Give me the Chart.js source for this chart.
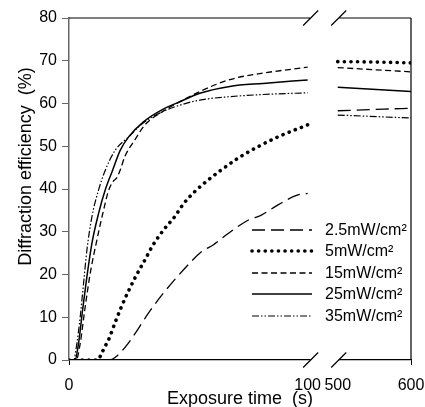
<!DOCTYPE html>
<html>
<head>
<meta charset="utf-8">
<script src="https://cdn.jsdelivr.net/npm/chart.js@4.4.1/dist/chart.umd.min.js"></script>
<style>
  html, body { margin: 0; padding: 0; background: #fff; }
</style>
</head>
<body>
<canvas id="myChart" width="425" height="407"></canvas>
<script>
// series names
var labels = ['2.5mW/cm²', '5mW/cm²', '15mW/cm²', '25mW/cm²', '35mW/cm²'];

// exposure time (s) / diffraction efficiency (%)
var t2_5 = [0, 17, 20.6, 24.8, 29, 33.2, 39.5, 47.8, 55.5, 60.4, 66.7, 75, 80.6, 87.6, 95.9, 100, 500, 550, 600];
var e2_5 = [0, 0, 1.2, 3.9, 7.3, 10.9, 15.6, 21, 25.3, 26.9, 29.6, 32.7, 33.9, 36.3, 38.6, 39, 58.3, 58.6, 58.9];

var t5 = [0, 12, 13.7, 15, 16.4, 19.2, 22, 24.8, 28.3, 31.8, 35.3, 40.2, 44.4, 47.8, 52.7, 58.3, 63.2, 70.8, 79.2, 87.6, 100, 500, 550, 600];
var e5 = [0, 0, 1.6, 3.1, 4.5, 8.6, 12.5, 16, 19.9, 23.4, 27, 30.8, 33.6, 36.4, 39.4, 42.1, 44.2, 47.2, 49.9, 52.2, 55, 69.8, 69.7, 69.5];

var t15 = [0, 3, 4.7, 6.6, 8.9, 11.7, 14.5, 16.5, 18.5, 20, 21.5, 23.4, 27.6, 31.8, 38.9, 46.4, 54.8, 67.4, 81.3, 100, 500, 600];
var e15 = [0, 0, 3.9, 11.7, 20.3, 28.1, 35.1, 39.5, 41.8, 42.6, 44.5, 47.6, 51.5, 55, 58, 60.4, 62.8, 65.6, 67.1, 68.5, 68.4, 67.4];

var t25 = [0, 2.5, 4, 5.7, 7.5, 9.6, 12.4, 15.2, 18, 21.5, 25, 31.2, 38.9, 46.4, 54.8, 67.4, 81.3, 100, 500, 600];
var e25 = [0, 0, 3.9, 11.7, 19.5, 27.3, 34.3, 39.8, 44, 49.1, 52.2, 55.7, 58.5, 60.4, 62.4, 64, 64.7, 65.5, 63.8, 62.8];

var t35 = [0, 2, 3.3, 4.7, 6.1, 7.5, 9.6, 12.4, 15.2, 19.4, 25, 31.2, 38.9, 46.4, 54.8, 67.4, 81.3, 100, 500, 600];
var e35 = [0, 0, 3.9, 10.1, 17.9, 25.7, 33.5, 39.8, 44.4, 49.1, 52.2, 55.5, 58, 59.6, 60.8, 61.6, 62.1, 62.5, 57.3, 56.6];

var tickTimes = [0, 100, 500, 600];

// broken time axis: 0-100 s at full scale, gap, then 500-600 s squeezed
var GAP = 12.6, K = 0.307;
function brk(t) { return t <= 100 ? t : 100 + GAP + (t - 500) * K; }

function points(times, values) {
    var pts = [];
    for (var i = 0; i < times.length; i++) {
        if (i > 0 && times[i - 1] <= 100 && times[i] > 100) pts.push({ x: 100 + GAP / 2, y: null });
        pts.push({ x: brk(times[i]), y: values[i] });
    }
    return pts;
}

var FONT = 'Liberation Sans, Arial, sans-serif';
var legendRows = [230, 251, 273, 294, 316];

var frame = {
    id: 'frame',
    afterDraw: function (chart) {
        var ctx = chart.ctx, a = chart.chartArea, x = chart.scales.x;
        var b1 = x.getPixelForValue(100) + 3;
        var b2 = x.getPixelForValue(brk(500)) + 1;
        ctx.save();
        // cut the bottom axis at the break
        ctx.fillStyle = '#fff';
        ctx.fillRect(b1, a.bottom - 2, b2 - b1, 4);
        ctx.strokeStyle = '#000';
        ctx.lineWidth = 1.2;
        ctx.beginPath();
        ctx.moveTo(a.left, a.top); ctx.lineTo(b1, a.top);
        ctx.moveTo(b2, a.top); ctx.lineTo(a.right, a.top);
        ctx.moveTo(a.right, a.top); ctx.lineTo(a.right, a.bottom);
        [b1, b2].forEach(function (bx) {
            [a.top, a.bottom].forEach(function (by) {
                ctx.moveTo(bx - 7.5, by + 7.5); ctx.lineTo(bx + 7.5, by - 7.5);
            });
        });
        ctx.stroke();

        // legend inside the plot
        ctx.font = '16px ' + FONT;
        ctx.textBaseline = 'middle';
        ctx.fillStyle = '#000';
        chart.data.datasets.forEach(function (ds, i) {
            var y = legendRows[i];
            ctx.save();
            ctx.strokeStyle = ds.borderColor;
            ctx.lineWidth = ds.borderWidth;
            ctx.setLineDash(ds.borderDash || []);
            ctx.lineCap = ds.borderCapStyle || 'butt';
            ctx.beginPath(); ctx.moveTo(252, y); ctx.lineTo(312, y); ctx.stroke();
            ctx.restore();
            ctx.fillText(ds.label, 325, y + 1);
        });
        ctx.restore();
    }
};

var ctx = document.getElementById('myChart').getContext('2d');
var chart = new Chart(ctx, {
    type: 'line',
    data: {
        datasets: [{
            label: labels[0],
            data: points(t2_5, e2_5),
            borderColor: '#000',
            borderWidth: 1.3,
            borderDash: [13, 6]
        }, {
            label: labels[1],
            data: points(t5, e5),
            borderColor: '#000',
            borderWidth: 3.6,
            borderDash: [0.1, 6.5],
            borderCapStyle: 'round'
        }, {
            label: labels[2],
            data: points(t15, e15),
            borderColor: '#000',
            borderWidth: 1.3,
            borderDash: [6, 3.5]
        }, {
            label: labels[3],
            data: points(t25, e25),
            borderColor: '#000',
            borderWidth: 1.5
        }, {
            label: labels[4],
            data: points(t35, e35),
            borderColor: '#000',
            borderWidth: 1.2,
            borderDash: [7, 2, 1.5, 2, 1.5, 2]
        }]
    },
    options: {
        responsive: false,
        animation: false,
        devicePixelRatio: 1,
        layout: { padding: { top: 18, right: 14, left: 0, bottom: 0 } },
        elements: {
            point: { radius: 0 },
            line: { cubicInterpolationMode: 'monotone', fill: false }
        },
        plugins: { legend: { display: false }, tooltip: { enabled: false } },
        scales: {
            x: {
                type: 'linear',
                min: 0,
                max: brk(600),
                afterBuildTicks: function (scale) {
                    scale.ticks = tickTimes.map(function (t) { return { value: brk(t) }; });
                },
                afterFit: function (scale) {
                    scale.height = 47;
                    scale.paddingLeft = 0;
                    scale.paddingRight = 0;
                },
                ticks: {
                    autoSkip: false,
                    maxRotation: 0,
                    padding: 11,
                    color: '#000',
                    font: { family: FONT, size: 16 },
                    callback: function (v, i) { return String(tickTimes[i]); }
                },
                grid: {
                    drawOnChartArea: false,
                    tickLength: 5,
                    color: function (c) { return (c.index === 1 || c.index === 2) ? 'rgba(0,0,0,0)' : '#000'; }
                },
                border: { color: '#000', width: 1.2 },
                title: {
                    display: true,
                    text: 'Exposure time  (s)',
                    color: '#000',
                    font: { family: FONT, size: 18 },
                    padding: { top: 0, bottom: -3 }
                }
            },
            y: {
                min: 0,
                max: 80,
                afterFit: function (scale) { scale.width = 69; },
                ticks: {
                    stepSize: 10,
                    padding: 5,
                    color: '#000',
                    font: { family: FONT, size: 16 }
                },
                grid: { drawOnChartArea: false, tickLength: 7, color: '#666' },
                border: { color: '#666', width: 1.5 },
                title: {
                    display: true,
                    text: '         Diffraction efficiency  (%)',
                    color: '#000',
                    font: { family: FONT, size: 18 },
                    padding: { top: 15, bottom: 0 }
                }
            }
        }
    },
    plugins: [frame]
});
</script>
</body>
</html>
